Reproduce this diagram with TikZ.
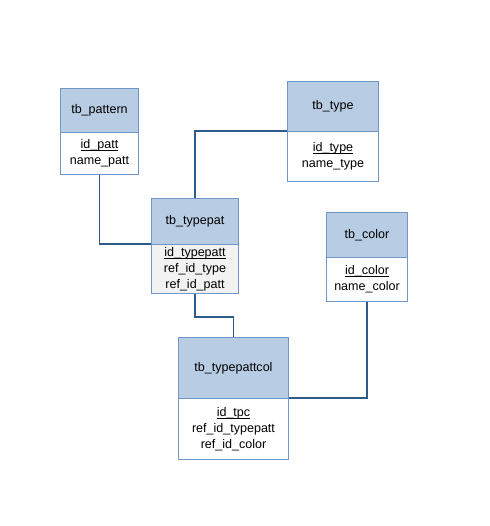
\documentclass[tikz,border=0pt]{standalone}
\usepackage{fontspec}
\setmainfont{Liberation Sans}
\definecolor{hdrfill}{HTML}{B8CCE4}
\definecolor{boxline}{HTML}{7097C8}
\definecolor{conn}{HTML}{2E5C8A}
\definecolor{bodygray}{HTML}{F2F2F2}
\newcommand{\tbfont}{\fontsize{9.4}{12}\selectfont}
\newcommand{\keyfield}[1]{\underline{\smash{#1}}\vphantom{p}}
\begin{document}
\begin{tikzpicture}[x=0.75pt,y=-0.75pt,
  hdr/.style={draw=boxline, fill=hdrfill, line width=0.75pt, inner sep=0pt,
    anchor=north west, font=\tbfont, align=center},
  bdy/.style={draw=boxline, fill=white, line width=0.75pt, inner sep=0pt,
    anchor=north west, font=\tbfont, align=center, text depth=-4.5pt},
  link/.style={draw=conn, line width=0.8pt}]
\useasboundingbox[fill=white] (0,0) rectangle (490,526);
% tb_pattern
\node[hdr, minimum width=78*0.75pt, minimum height=44*0.75pt] (pattern) at (60,88) {tb\_pattern};
\node[bdy, minimum width=78*0.75pt, minimum height=42*0.75pt] (patternb) at (60,132) {\keyfield{id\_patt}\\name\_patt};
% tb_type
\node[hdr, minimum width=91*0.75pt, minimum height=50*0.75pt] (type) at (287,81) {tb\_type};
\node[bdy, minimum width=91*0.75pt, minimum height=50*0.75pt] (typeb) at (287,131) {\keyfield{id\_type}\\name\_type};
% tb_typepat
\node[hdr, minimum width=87*0.75pt, minimum height=46*0.75pt] (typepat) at (151,198) {tb\_typepat};
\node[bdy, fill=bodygray, minimum width=87*0.75pt, minimum height=49*0.75pt] (typepatb) at (151,244) {\keyfield{id\_typepatt}\\ref\_id\_type\\ref\_id\_patt};
% tb_color
\node[hdr, minimum width=81*0.75pt, minimum height=45*0.75pt] (color) at (326,212) {tb\_color};
\node[bdy, minimum width=81*0.75pt, minimum height=44*0.75pt] (colorb) at (326,257) {\keyfield{id\_color}\\name\_color};
% tb_typepattcol
\node[hdr, minimum width=110*0.75pt, minimum height=61*0.75pt] (typepattcol) at (178,337) {tb\_typepattcol};
\node[bdy, minimum width=110*0.75pt, minimum height=61*0.75pt] (typepattcolb) at (178,398) {\keyfield{id\_tpc}\\ref\_id\_typepatt\\ref\_id\_color};
% connectors
\draw[link] (patternb.south) |- (typepatb.north west);
\draw[link] (typeb.north west) -| (typepat.north);
\draw[link] (typepatb.south) -- ++(0,23) coordinate (bend) -| (typepattcol.north);
\draw[link] (colorb.south) |- (typepattcolb.north east);
\end{tikzpicture}
\end{document}
